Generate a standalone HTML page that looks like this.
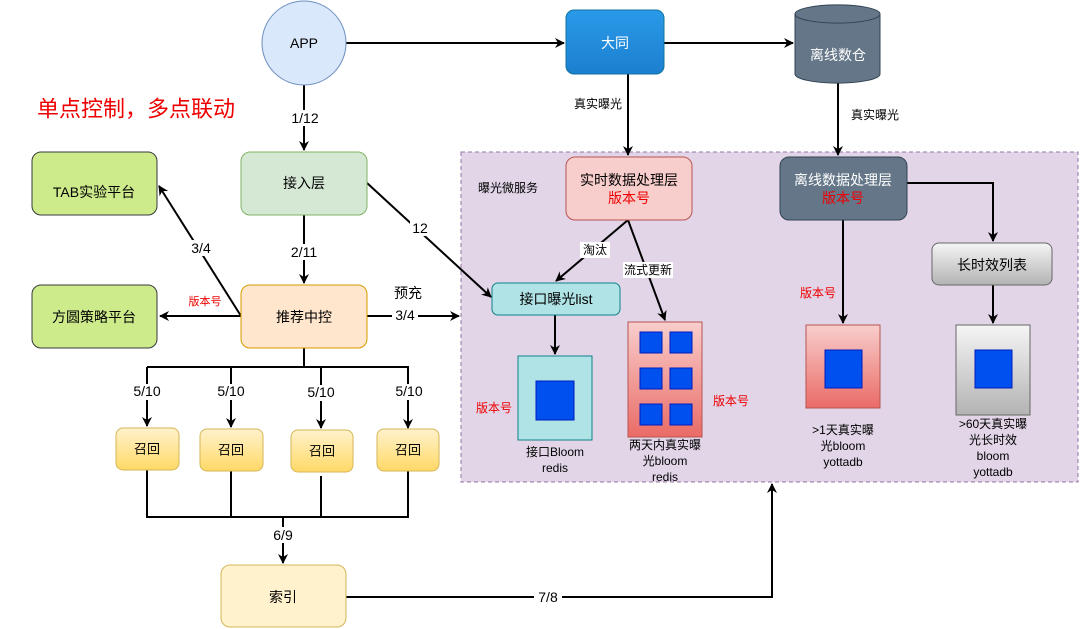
<!DOCTYPE html>
<html><head><meta charset="utf-8"><style>
body{margin:0;background:#fff}
svg{display:block}
text{font-family:"Liberation Sans","Noto Sans CJK SC",sans-serif;text-anchor:middle;dominant-baseline:central}
</style></head><body>
<svg width="1080" height="629" viewBox="0 0 1080 629" xmlns="http://www.w3.org/2000/svg">
<defs>
<marker id="a" viewBox="0 0 10 10" refX="9" refY="5" markerWidth="10" markerHeight="10" orient="auto-start-reverse" markerUnits="userSpaceOnUse"><path d="M0,0 L10,5 L0,10 L3,5z" fill="#000"/></marker>
<linearGradient id="yg" x1="0" y1="0" x2="0" y2="1"><stop offset="0" stop-color="#fff2cc"/><stop offset="1" stop-color="#ffd966"/></linearGradient>
<linearGradient id="bg" x1="0" y1="0" x2="0" y2="1"><stop offset="0" stop-color="#2a9ae8"/><stop offset="1" stop-color="#1c7fd0"/></linearGradient>
<linearGradient id="rg" x1="0" y1="0" x2="0" y2="1"><stop offset="0" stop-color="#f8cecc"/><stop offset="1" stop-color="#ea6b66"/></linearGradient>
<linearGradient id="gg" x1="0" y1="0" x2="0" y2="1"><stop offset="0" stop-color="#f5f5f5"/><stop offset="1" stop-color="#b3b3b3"/></linearGradient>
</defs>
<g stroke="#000" stroke-width="2" fill="none">
<rect x="461" y="152" width="617" height="330" fill="#e1d5e7" stroke="#9673a6" stroke-width="1" stroke-dasharray="4 3"/>
<line x1="346" y1="43" x2="564" y2="43" marker-end="url(#a)"/>
<line x1="664" y1="43" x2="793" y2="43" marker-end="url(#a)"/>
<line x1="628" y1="74" x2="628" y2="155" marker-end="url(#a)"/>
<line x1="838" y1="82" x2="838" y2="155" marker-end="url(#a)"/>
<line x1="304" y1="85" x2="304" y2="150" marker-end="url(#a)"/>
<line x1="304" y1="215" x2="304" y2="283" marker-end="url(#a)"/>
<line x1="367" y1="183" x2="491" y2="297" marker-end="url(#a)"/>
<line x1="241" y1="316" x2="159" y2="186" marker-end="url(#a)"/>
<line x1="241" y1="316" x2="160" y2="316" marker-end="url(#a)"/>
<line x1="367" y1="316" x2="459" y2="316" marker-end="url(#a)"/>
<polyline points="304,348 304,367"/>
<line x1="147" y1="367" x2="409" y2="367"/>
<line x1="147" y1="367" x2="147" y2="426" marker-end="url(#a)"/>
<line x1="231" y1="367" x2="231" y2="427" marker-end="url(#a)"/>
<line x1="321" y1="367" x2="321" y2="428" marker-end="url(#a)"/>
<line x1="408" y1="367" x2="408" y2="428" marker-end="url(#a)"/>
<polyline points="147,470 147,517 408,517 408,470"/>
<line x1="231" y1="470" x2="231" y2="517"/>
<line x1="321" y1="476" x2="321" y2="517"/>
<line x1="283" y1="517" x2="283" y2="563" marker-end="url(#a)"/>
<polyline points="346,597 772,597 772,484" marker-end="url(#a)"/>
<line x1="628" y1="220" x2="556" y2="281" marker-end="url(#a)"/>
<line x1="628" y1="220" x2="665" y2="320" marker-end="url(#a)"/>
<line x1="555" y1="315" x2="555" y2="354" marker-end="url(#a)"/>
<line x1="843" y1="220" x2="843" y2="323" marker-end="url(#a)"/>
<polyline points="907,183 993,183 993,241" marker-end="url(#a)"/>
<line x1="993" y1="285" x2="993" y2="323" marker-end="url(#a)"/>
</g>
<circle cx="304" cy="43" r="42" fill="#dae8fc" stroke="#6c8ebf"/>
<rect x="566" y="10" width="98" height="64" rx="8" fill="url(#bg)" stroke="#10739e"/>
<path d="M795,14 a42,9 0 0 1 85,0 v60 a42,9 0 0 1 -85,0z" fill="#647687" stroke="#314354"/>
<path d="M795,14 a42,9 0 0 0 85,0" fill="none" stroke="#314354"/>
<rect x="32" y="152" width="125" height="63" rx="9" fill="#cdeb8b" stroke="#36393d"/>
<rect x="32" y="285" width="125" height="63" rx="9" fill="#cdeb8b" stroke="#36393d"/>
<rect x="241" y="152" width="126" height="63" rx="9" fill="#d5e8d4" stroke="#82b366"/>
<rect x="241" y="285" width="126" height="63" rx="9" fill="#ffe6cc" stroke="#d79b00"/>
<rect x="116" y="428" width="63" height="42" rx="7" fill="url(#yg)" stroke="#d6b656"/>
<rect x="200" y="429" width="63" height="42" rx="7" fill="url(#yg)" stroke="#d6b656"/>
<rect x="291" y="430" width="62" height="42" rx="7" fill="url(#yg)" stroke="#d6b656"/>
<rect x="377" y="429" width="62" height="42" rx="7" fill="url(#yg)" stroke="#d6b656"/>
<rect x="221" y="565" width="125" height="62" rx="9" fill="#fff2cc" stroke="#d6b656"/>
<rect x="566" y="157" width="126" height="63" rx="9" fill="#f8cecc" stroke="#b85450"/>
<rect x="780" y="157" width="127" height="63" rx="9" fill="#647687" stroke="#314354"/>
<rect x="932" y="243" width="120" height="42" rx="7" fill="url(#gg)" stroke="#666"/>
<rect x="492" y="283" width="128" height="32" rx="6" fill="#b0e3e6" stroke="#0e8088"/>
<rect x="518" y="356" width="74" height="84" fill="#b0e3e6" stroke="#0e8088"/>
<rect x="536" y="381" width="38" height="39" fill="#0050ef" stroke="#001dbc"/>
<rect x="628" y="322" width="74" height="115" fill="url(#rg)" stroke="#b85450"/>
<g fill="#0050ef" stroke="#001dbc">
<rect x="640" y="332" width="22" height="21"/><rect x="670" y="332" width="22" height="21"/>
<rect x="640" y="368" width="22" height="21"/><rect x="670" y="368" width="22" height="21"/>
<rect x="640" y="404" width="22" height="21"/><rect x="670" y="404" width="22" height="21"/>
</g>
<rect x="806" y="325" width="74" height="83" fill="url(#rg)" stroke="#b85450"/>
<rect x="825" y="350" width="37" height="38" fill="#0050ef" stroke="#001dbc"/>
<rect x="956" y="325" width="74" height="90" fill="url(#gg)" stroke="#666"/>
<rect x="975" y="350" width="37" height="38" fill="#0050ef" stroke="#001dbc"/>
<g font-size="13" fill="#000">
<text x="304" y="43" font-size="14">APP</text>
<text x="615" y="43" fill="#fff" font-size="14">大同</text>
<text x="838" y="55" fill="#fff" font-size="14">离线数仓</text>
<text x="94" y="192" font-size="14">TAB实验平台</text>
<text x="94" y="317" font-size="14">方圆策略平台</text>
<text x="304" y="183" font-size="14">接入层</text>
<text x="304" y="317" font-size="14">推荐中控</text>
<text x="147" y="449">召回</text><text x="231" y="450">召回</text><text x="322" y="451">召回</text><text x="408" y="450">召回</text>
<text x="283" y="597" font-size="14">索引</text>
<text x="629" y="180" font-size="14">实时数据处理层</text>
<text x="629" y="198" font-size="14" fill="#e00">版本号</text>
<text x="843" y="180" font-size="14" fill="#fff">离线数据处理层</text>
<text x="843" y="198" font-size="14" fill="#e00">版本号</text>
<text x="992" y="265" font-size="14">长时效列表</text>
<text x="556" y="299" font-size="14">接口曝光list</text>
<text x="508" y="188" font-size="12">曝光微服务</text>
<text x="598" y="104" font-size="12">真实曝光</text>
<text x="875" y="115" font-size="12">真实曝光</text>
<g font-size="12">
<text x="555" y="452">接口Bloom</text><text x="555" y="468">redis</text>
<text x="665" y="445">两天内真实曝</text><text x="665" y="461">光bloom</text><text x="665" y="477">redis</text>
<text x="843" y="430">&gt;1天真实曝</text><text x="843" y="446">光bloom</text><text x="843" y="462">yottadb</text>
<text x="993" y="424">&gt;60天真实曝</text><text x="993" y="440">光长时效</text><text x="993" y="456">bloom</text><text x="993" y="472">yottadb</text>
</g>
<g font-size="12" fill="#e00">
<text x="494" y="408">版本号</text><text x="731" y="401">版本号</text><text x="818" y="293">版本号</text>
<text x="205" y="302" font-size="11">版本号</text>
</g>
<g font-size="14">
<rect x="288" y="110" width="34" height="16" fill="#fff"/><text x="305" y="118">1/12</text>
<rect x="288" y="244" width="34" height="16" fill="#fff"/><text x="304" y="252">2/11</text>
<rect x="410" y="220" width="20" height="16" fill="#fff"/><text x="420" y="228">12</text>
<rect x="188" y="240" width="26" height="16" fill="#fff"/><text x="201" y="248">3/4</text>
<text x="408" y="293">预充</text>
<rect x="392" y="308" width="26" height="16" fill="#fff"/><text x="405" y="315">3/4</text>
<rect x="131" y="384" width="32" height="16" fill="#fff"/><text x="147" y="391">5/10</text>
<rect x="215" y="384" width="32" height="16" fill="#fff"/><text x="231" y="391">5/10</text>
<rect x="305" y="385" width="32" height="16" fill="#fff"/><text x="321" y="392">5/10</text>
<rect x="393" y="384" width="32" height="16" fill="#fff"/><text x="409" y="391">5/10</text>
<rect x="270" y="527" width="28" height="16" fill="#fff"/><text x="283" y="535">6/9</text>
<rect x="534" y="589" width="28" height="16" fill="#fff"/><text x="548" y="597">7/8</text>
</g>
<rect x="580" y="242" width="30" height="16" fill="#fff"/><text x="595" y="250" font-size="12">淘汰</text>
<rect x="623" y="262" width="50" height="16" fill="#fff"/><text x="648" y="270" font-size="12">流式更新</text>
<text x="136" y="109" font-size="22" fill="#e00">单点控制，多点联动</text>
</g>
</svg>
</body></html>
